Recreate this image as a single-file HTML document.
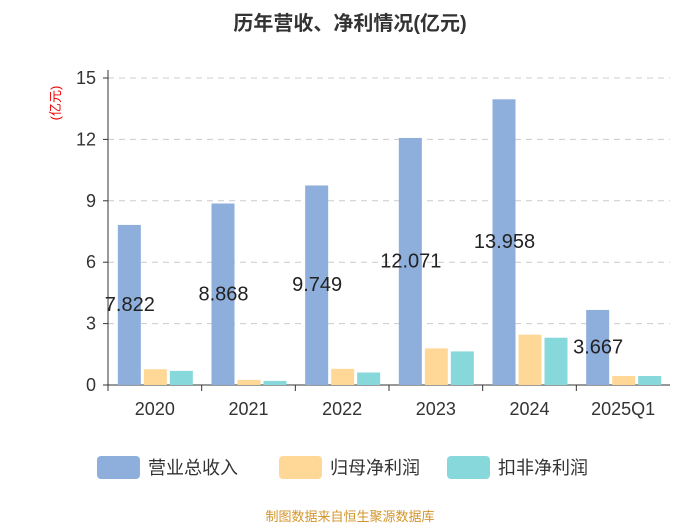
<!DOCTYPE html>
<html><head><meta charset="utf-8"><style>
body{margin:0;background:#fff;width:700px;height:525px;overflow:hidden}
text{font-family:"Liberation Sans","Noto Sans CJK SC",sans-serif}
</style></head><body>
<svg id="c" width="700" height="525">
<text x="350" y="30" text-anchor="middle" font-size="20" font-weight="bold" fill="#333">历年营收、净利情况(亿元)</text>
<text transform="translate(60,103) rotate(-90)" text-anchor="middle" font-size="13" fill="#e00">(亿元)</text>
<text x="350" y="521" text-anchor="middle" font-size="13" fill="#d4952a">制图数据来自恒生聚源数据库</text>
</svg>
<script>
const categories=["2020","2021","2022","2023","2024","2025Q1"];
const revenue=[7.822,8.868,9.749,12.071,13.958,3.667];
const netProfit=[0.77,0.25,0.79,1.79,2.46,0.44];
const deductedProfit=[0.69,0.2,0.61,1.64,2.31,0.44];
const yTicks=[0,3,6,9,12,15];
const seriesNames=["营业总收入","归母净利润","扣非净利润"];
const colors=["#8eaedc","#ffd898","#86d8da"];
const svg=document.getElementById('c');const NS="http://www.w3.org/2000/svg";
const x0=108,x1=670,y0=385,yTop=78,yMax=15;
const y=v=>y0-(v/yMax)*(y0-yTop);
const bw=(x1-x0)/categories.length;
function mk(t,a,txt){const e=document.createElementNS(NS,t);for(const k in a)e.setAttribute(k,a[k]);if(txt!==undefined)e.textContent=txt;svg.appendChild(e);return e;}
yTicks.forEach(t=>{
 if(t>0){const g=mk('line',{x1:x0,x2:x1,y1:y(t),y2:y(t),stroke:'#ccc','stroke-dasharray':'6,5'});
 
 }
 const l=mk('text',{x:x0-12,y:y(t)+6,'text-anchor':'end','font-size':18,fill:'#333'},String(t));
 
 
 const tk=mk('line',{x1:x0-5,x2:x0,y1:y(t),y2:y(t),stroke:'#333'});
 
 
});
const ya=mk('line',{x1:x0,x2:x0,y1:yTop-8,y2:y0,stroke:'#333'});


const xa=mk('line',{x1:x0,x2:x1,y1:y0,y2:y0,stroke:'#333'});


const series=[revenue,netProfit,deductedProfit];
categories.forEach((c,i)=>{
 const cx=x0+bw*(i+0.5);
 const tk=mk('line',{x1:x0+bw*i,x2:x0+bw*i,y1:y0,y2:y0+6,stroke:'#333'});
 
 
 const l=mk('text',{x:cx,y:y0+30,'text-anchor':'middle','font-size':18,fill:'#333'},c);
 
 
 series.forEach((s,k)=>{
  const bx=cx-37+k*26;
  const r=mk('rect',{x:bx,y:y(s[i]),width:23,height:y0-y(s[i]),fill:colors[k]});
  
  
 });
 const lb=mk('text',{x:cx-25,y:(y(revenue[i])+y0)/2+6,'text-anchor':'middle','font-size':20,fill:'#222'},revenue[i].toFixed(3));
 
 
});
const lx=[97,279,447];
seriesNames.forEach((n,k)=>{
 const r=mk('rect',{x:lx[k],y:456,width:43,height:23,rx:4,fill:colors[k]});
 
 
 const t=mk('text',{x:lx[k]+51,y:474,'font-size':18,fill:'#333'},n);
 
 
});
</script>
</body></html>
